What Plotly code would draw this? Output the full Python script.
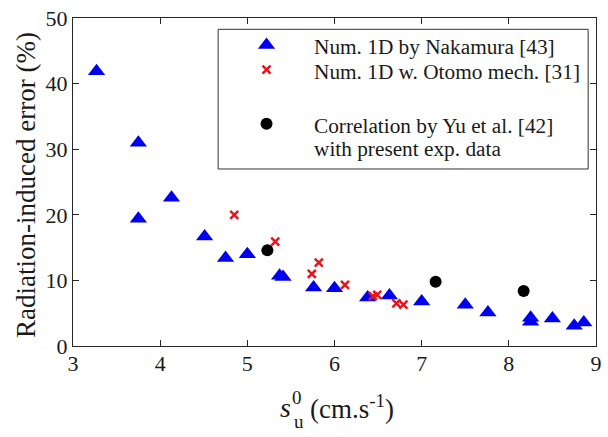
import plotly.graph_objects as go

# --- data ---
naka_x = [3.27, 3.75, 3.75, 4.13, 4.51, 4.75, 5.00, 5.37, 5.41, 5.76, 6.00, 6.38, 6.63, 7.00, 7.50, 7.76, 8.25, 8.25, 8.50, 8.75, 8.86]
naka_y = [41.9, 31.0, 19.4, 22.6, 16.7, 13.4, 14.0, 10.7, 10.5, 8.9, 8.8, 7.4, 7.7, 6.8, 6.3, 5.1, 4.3, 3.7, 4.2, 3.1, 3.6]

otomo_x = [4.85, 5.32, 5.74, 5.82, 6.12, 6.44, 6.49, 6.71, 6.79]
otomo_y = [20.0, 15.9, 11.0, 12.7, 9.3, 7.6, 7.8, 6.5, 6.3]

yu_x = [5.23, 7.16, 8.17]
yu_y = [14.6, 9.8, 8.4]

x_ticks = [3, 4, 5, 6, 7, 8, 9]
y_ticks = [0, 10, 20, 30, 40, 50]

legend_labels = ["Num. 1D by Nakamura [43]", "Num. 1D w. Otomo mech. [31]",
                 "Correlation by Yu et al. [42]", "with present exp. data"]

FONT = "Liberation Serif, Times New Roman, serif"
BLUE = "#0000f0"
RED = "#e8141c"
BLACK = "#000000"
AX = "#262626"
TXT = "#1a1a1a"

fig = go.Figure()
fig.add_trace(go.Scatter(x=naka_x, y=naka_y, mode="markers", name=legend_labels[0],
                         marker=dict(symbol="triangle-up", size=15, color=BLUE, line=dict(width=0))))
fig.add_trace(go.Scatter(x=otomo_x, y=otomo_y, mode="markers", name=legend_labels[1],
                         marker=dict(symbol="x-thin", size=8, color=RED, line=dict(width=2.5, color=RED))))
fig.add_trace(go.Scatter(x=yu_x, y=yu_y, mode="markers", name=legend_labels[2],
                         marker=dict(symbol="circle", size=12, color=BLACK, line=dict(width=0))))

axis_common = dict(showline=True, linecolor=AX, linewidth=1, mirror="ticks", ticks="inside",
                   ticklen=6, tickcolor=AX, tickwidth=1, showgrid=False, zeroline=False,
                   ticklabeloverflow="allow",
                   tickfont=dict(family=FONT, size=22, color=TXT))

fig.update_layout(
    width=608, height=437, autosize=False,
    margin=dict(l=73, r=6, t=12, b=91),
    paper_bgcolor="white", plot_bgcolor="white",
    showlegend=False,
    font=dict(family=FONT, color=TXT),
    xaxis=dict(range=[3, 9], tickvals=x_ticks, ticktext=[str(v) for v in x_ticks],
               ticklabelstandoff=-2, **axis_common),
    yaxis=dict(range=[0, 50], tickvals=y_ticks, ticktext=[str(v) for v in y_ticks], **axis_common),
)

# ---- hand-drawn legend (box, glyphs, text) ----
fig.add_shape(type="rect", xref="paper", yref="paper", x0=0.2775, x1=0.985, y0=0.5397, y1=0.9655,
              line=dict(color="#333333", width=1), fillcolor="rgba(0,0,0,0)", layer="below")

lx = 0.370
pix = dict(xref="paper", yref="paper", xsizemode="pixel", ysizemode="pixel", xanchor=lx)
fig.add_shape(type="path", yanchor=0.9175, path="M-8.66,-3.75 L8.66,-3.75 L0,7.5 Z",
              fillcolor=BLUE, line=dict(width=0), **pix)
fig.add_shape(type="path", yanchor=0.8426, path="M-4,-4 L4,4 M-4,4 L4,-4",
              line=dict(color=RED, width=2.5), **pix)
fig.add_shape(type="circle", yanchor=0.6777, x0=-6, x1=6, y0=-6, y1=6,
              fillcolor=BLACK, line=dict(width=0), **pix)

tx = 0.457
for txt, yy in zip(legend_labels, [0.9115, 0.8366, 0.6702, 0.6012]):
    fig.add_annotation(text=txt, xref="paper", yref="paper", x=tx, y=yy, xanchor="left", yanchor="middle",
                       showarrow=False, font=dict(family=FONT, size=21.3, color=TXT))

# y-axis title
fig.add_annotation(text="Radiation-induced error (%)", xref="paper", yref="paper",
                   x=-0.0914, y=0.4918, xanchor="center", yanchor="middle", textangle=-90,
                   showarrow=False, font=dict(family=FONT, size=27, color=TXT))

# x-axis title: s with stacked sub/superscript
fig.add_annotation(text="<i>s</i>", xref="paper", yref="paper", x=0.406, y=-0.189,
                   xanchor="center", yanchor="middle", showarrow=False,
                   font=dict(family=FONT, size=28, color=TXT))
fig.add_annotation(text="0", xref="paper", yref="paper", x=0.429, y=-0.156,
                   xanchor="center", yanchor="middle", showarrow=False,
                   font=dict(family=FONT, size=19, color=TXT))
fig.add_annotation(text="u", xref="paper", yref="paper", x=0.433, y=-0.231,
                   xanchor="center", yanchor="middle", showarrow=False,
                   font=dict(family=FONT, size=19, color=TXT))
fig.add_annotation(text="(cm.s<sup>-1</sup>)", xref="paper", yref="paper", x=0.449, y=-0.185,
                   xanchor="left", yanchor="middle", showarrow=False,
                   font=dict(family=FONT, size=27, color=TXT))

fig.write_html("out.html", config={"displayModeBar": False},
               post_script="document.body.style.margin='0';document.body.style.overflow='hidden';")
